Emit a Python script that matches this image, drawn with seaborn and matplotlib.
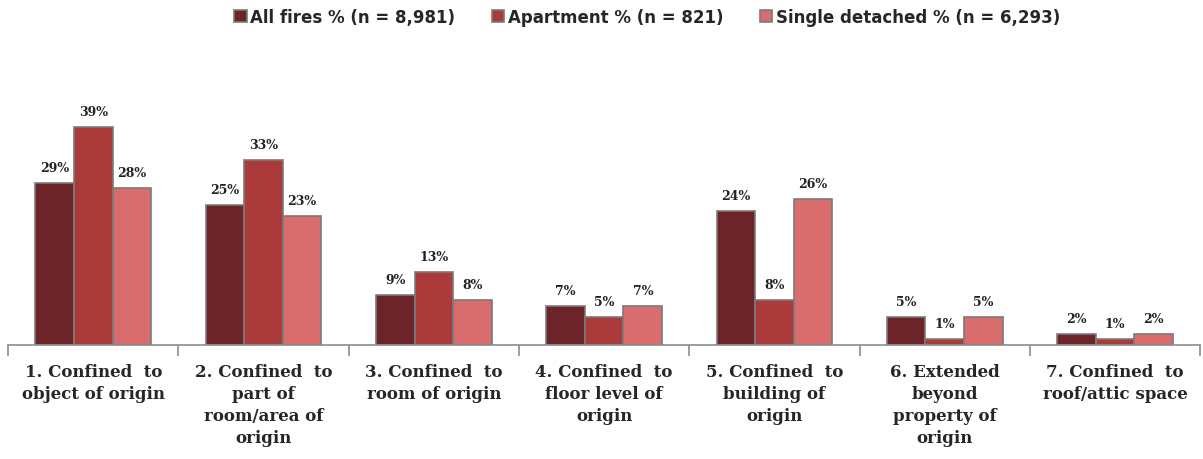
import numpy as np
import pandas as pd
import matplotlib
matplotlib.use("Agg")
import matplotlib.pyplot as plt
import seaborn as sns

# ---- data ---------------------------------------------------------------
categories = [
    "1. Confined  to\nobject of origin",
    "2. Confined  to\npart of\nroom/area of\norigin",
    "3. Confined  to\nroom of origin",
    "4. Confined  to\nfloor level of\norigin",
    "5. Confined  to\nbuilding of\norigin",
    "6. Extended\nbeyond\nproperty of\norigin",
    "7. Confined  to\nroof/attic space",
]
series = ["All fires % (n = 8,981)", "Apartment % (n = 821)", "Single detached % (n = 6,293)"]
all_fires = [29, 25, 9, 7, 24, 5, 2]
apartment = [39, 33, 13, 5, 8, 1, 1]
single_detached = [28, 23, 8, 7, 26, 5, 2]
colors = ["#6c2428", "#ab3a3b", "#d96c6c"]

df = pd.DataFrame({
    "cat": categories * 3,
    "series": np.repeat(series, len(categories)),
    "pct": all_fires + apartment + single_detached,
})

# ---- plot ---------------------------------------------------------------
sns.set_style("white")
fig = plt.figure(figsize=(12.03, 4.6), dpi=100)
ax = fig.add_axes([0.0067, 0.2478, 0.991, 0.548])

sns.barplot(data=df, x="cat", y="pct", hue="series", palette=colors,
            width=0.68, gap=0, edgecolor="#7a7a7a", linewidth=1.2,
            saturation=1, ax=ax)

for cont in ax.containers:
    ax.bar_label(cont, fmt="%d%%", padding=6.5, fontsize=9, fontweight="bold",
                 family="DejaVu Serif", color="#222222")

ax.set_ylim(0, 45)
ax.set_xlim(-0.5, len(categories) - 0.5)
ax.set_xlabel("")
ax.set_ylabel("")
ax.set_yticks([])
for s in ["top", "right", "left"]:
    ax.spines[s].set_visible(False)
ax.spines["bottom"].set_color("#8c8c8c")
ax.spines["bottom"].set_linewidth(1.2)

ax.set_xticks(np.arange(-0.5, len(categories)), minor=True)
ax.tick_params(axis="x", which="minor", bottom=True, length=8, width=1.2,
               color="#8c8c8c", direction="out")
ax.tick_params(axis="x", which="major", bottom=False, length=0, pad=13)
for lab in ax.get_xticklabels():
    lab.set_fontfamily("DejaVu Serif")
    lab.set_fontweight("bold")
    lab.set_fontsize(12)
    lab.set_linespacing(1.38)
    lab.set_verticalalignment("top")

handles, labels = ax.get_legend_handles_labels()
ax.legend_.remove()
fig.legend(handles, labels, loc="center", bbox_to_anchor=(0.538, 0.961),
           ncol=3, frameon=False, handlelength=0.75, handleheight=0.75,
           handletextpad=0.2, columnspacing=2.2,
           prop={"family": "DejaVu Sans", "weight": "bold", "size": 12})

fig.savefig("out.png", dpi=100)
